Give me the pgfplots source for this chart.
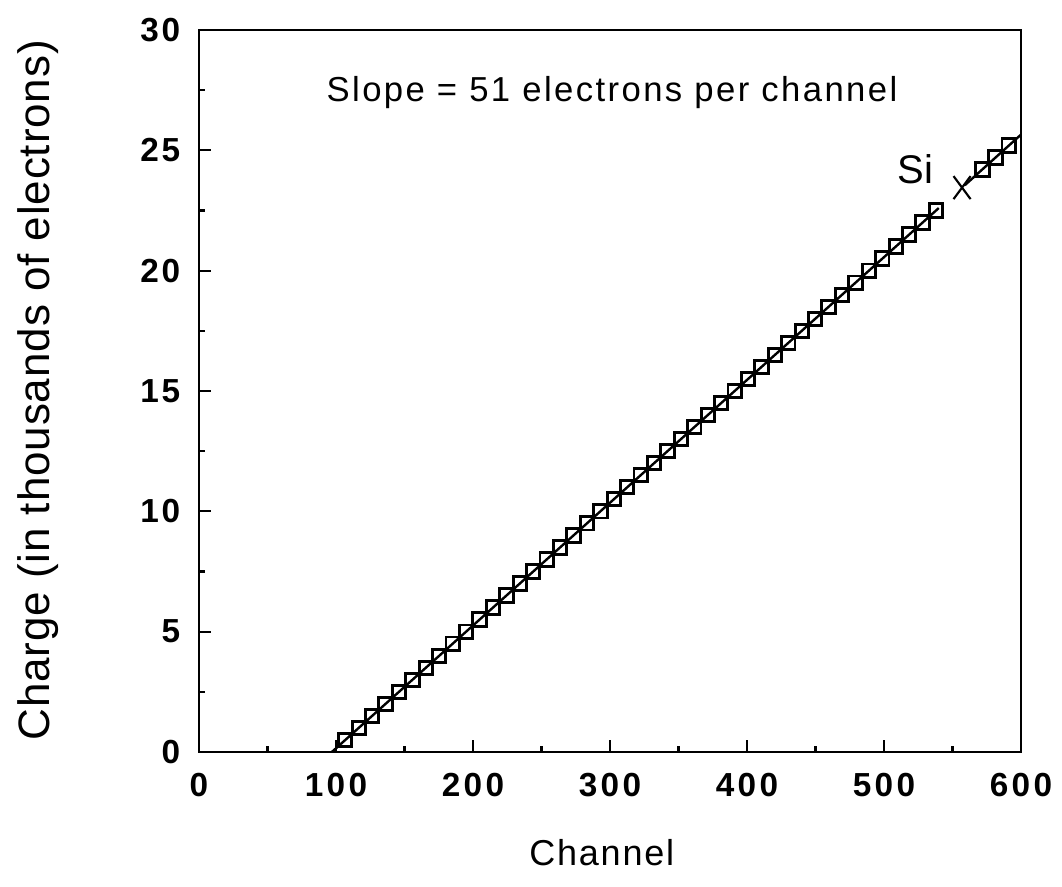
\documentclass[border=0pt]{standalone}
\usepackage{fontspec}
\setmainfont{Liberation Sans}
\usepackage{pgfplots}
\pgfplotsset{compat=1.18}

% Calibration points: charge collected (thousands of electrons) per ADC channel
\pgfplotstableread{
x      y
106.8  0.5
116.6  1.0
126.4  1.5
136.2  2.0
146.0  2.5
155.8  3.0
165.6  3.5
175.4  4.0
185.2  4.5
195.0  5.0
204.8  5.5
214.6  6.0
224.4  6.5
234.2  7.0
244.0  7.5
253.8  8.0
263.6  8.5
273.4  9.0
283.2  9.5
293.0  10.0
302.8  10.5
312.6  11.0
322.4  11.5
332.2  12.0
342.0  12.5
351.8  13.0
361.6  13.5
371.4  14.0
381.2  14.5
391.0  15.0
400.8  15.5
410.6  16.0
420.4  16.5
430.2  17.0
440.0  17.5
449.8  18.0
459.6  18.5
469.4  19.0
479.2  19.5
489.0  20.0
498.8  20.5
508.6  21.0
518.4  21.5
528.2  22.0
538.0  22.5
572.0  24.2
581.5  24.7
591.0  25.2
}\calib

\begin{document}
\begin{tikzpicture}
\path[use as bounding box] (-2.623cm,-1.767cm) rectangle (11.377cm,9.913cm);
\begin{axis}[
  at={(0,0)}, anchor=south west,
  scale only axis, width=10.836cm, height=9.518cm,
  xmin=0, xmax=600, ymin=0, ymax=30,
  axis line style={line width=1.1pt},
  xtick={0,100,...,600}, minor xtick={50,150,...,550},
  ytick={0,5,...,30}, minor ytick={2.5,7.5,...,27.5},
  tick align=inside, xtick pos=bottom, ytick pos=left,
  major tick length=0.16cm, minor tick length=0.08cm,
  tick style={line width=0.8pt, black},
  /pgf/number format/assume math mode=true,
  xticklabel style={font=\fontsize{12.5}{14}\selectfont\bfseries\addfontfeature{LetterSpace=10},
    anchor=center, yshift=-0.435cm},
  yticklabel style={font=\fontsize{12.5}{14}\selectfont\bfseries\addfontfeature{LetterSpace=8},
    anchor=east, inner sep=0pt, xshift=-0.24cm},
  xlabel={Channel},
  ylabel={Charge (in thousands of electrons)},
  xlabel style={font=\fontsize{13.5}{16}\selectfont\addfontfeature{LetterSpace=5},
    at={(axis description cs:0.49,-0.1399)}, anchor=center},
  ylabel style={font=\fontsize{16.5}{18}\selectfont\addfontfeature{LetterSpace=2},
    at={(axis description cs:-0.1959,0.501)}, anchor=center},
  clip=false,
]
% fitted calibration line, broken around the Si point
\addplot[black, line width=0.9pt] coordinates {(97,0) (540,22.6)};
\addplot[black, line width=0.9pt] coordinates {(559,23.55) (600,25.65)};
% measured points
\addplot[only marks, mark=square, mark size=2.5pt,
  mark options={line width=1.1pt, black, fill=none}] table[x=x, y=y] {\calib};
% silicon reference point
\addplot[only marks, mark=x, mark size=6.1pt,
  mark options={line width=0.8pt, black, xscale=0.74}] coordinates {(557,23.45)};
\node[font=\fontsize{15}{17}\selectfont] at (axis cs:523,24.2) {Si};
\node[font=\fontsize{13}{16}\selectfont\addfontfeature{LetterSpace=7}] at (axis cs:301.5,27.4)
  {Slope = 51 electrons per channel};
\end{axis}
\end{tikzpicture}
\end{document}
